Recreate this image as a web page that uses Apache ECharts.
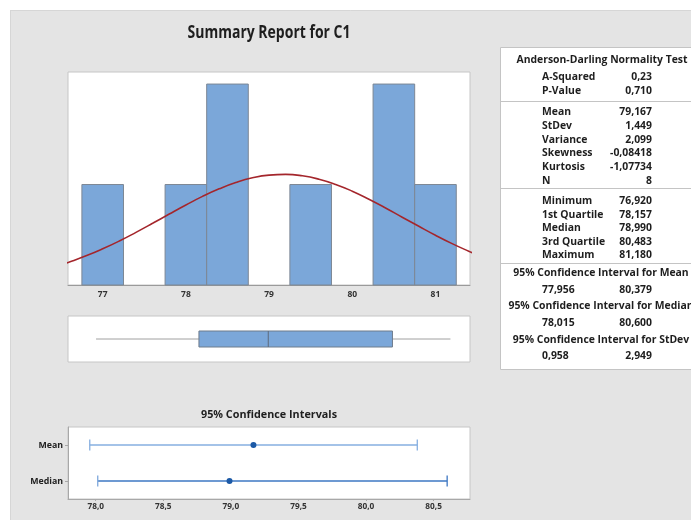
<!DOCTYPE html>
<html>
<head>
<meta charset="utf-8">
<script src="https://cdn.jsdelivr.net/npm/echarts@6/dist/echarts.min.js"></script>
<style>
  html, body { margin: 0; padding: 0; background: #fff; }
  #chart { width: 691px; height: 521px; }
</style>
</head>
<body>
<div id="chart"></div>
<script>
// ---- Data ----
const binWidth = 0.5;
const binCenters = [77.0, 78.0, 78.5, 79.5, 80.5, 81.0];
const binCounts = [1, 1, 2, 1, 2, 1];

// Fitted normal curve (scaled to counts)
const fitX = [76.5, 76.6, 76.8, 77.0, 77.2, 77.4, 77.6, 77.8, 78.0, 78.2, 78.4, 78.6, 78.8,
              79.0, 79.2, 79.4, 79.6, 79.8, 80.0, 80.2, 80.4, 80.6, 80.8, 81.0, 81.2, 81.4, 81.5];
const fitY = [0.202, 0.229, 0.290, 0.360, 0.438, 0.524, 0.614, 0.706, 0.796, 0.882, 0.957, 1.020, 1.067,
              1.094, 1.101, 1.087, 1.053, 1.001, 0.934, 0.854, 0.767, 0.675, 0.584, 0.495, 0.412, 0.336, 0.301];
const histTicks = [77, 78, 79, 80, 81];

// Five-number summary: min, Q1, median, Q3, max
const boxStats = [76.920, 78.157, 78.990, 80.483, 81.180];

// 95% confidence intervals
const ciNames = ['Median', 'Mean'];
const ciLow = [78.015, 77.956];
const ciCenter = [78.990, 79.167];
const ciHigh = [80.600, 80.379];
const ciTicks = [78.0, 78.5, 79.0, 79.5, 80.0, 80.5];

// Text
const titleText = 'Summary Report for C1';
const ciTitle = '95% Confidence Intervals';
const adHeader = 'Anderson-Darling Normality Test';
const adRows = [['A-Squared', '0,23'], ['P-Value', '0,710']];
const descRows = [['Mean', '79,167'], ['StDev', '1,449'], ['Variance', '2,099'],
                  ['Skewness', '-0,08418'], ['Kurtosis', '-1,07734'], ['N', '8']];
const quartRows = [['Minimum', '76,920'], ['1st Quartile', '78,157'], ['Median', '78,990'],
                   ['3rd Quartile', '80,483'], ['Maximum', '81,180']];
const ciRows = [['95% Confidence Interval for Mean', '77,956', '80,379'],
                ['95% Confidence Interval for Median', '78,015', '80,600'],
                ['95% Confidence Interval for StDev', '0,958', '2,949']];

// ---- Styling ----
const FONT = '"Open Sans", "Noto Sans", sans-serif';
const textColor = '#1e1e1e';
const barFill = '#7ba7d9';
const barStroke = '#7d8794';
const frame = '#c6c6c6';

const chart = echarts.init(document.getElementById('chart'), null, { renderer: 'canvas' });

function txt(text, x, y, align, font, extra) {
  return Object.assign({
    type: 'text', x: x, y: y, z: 20,
    style: { text: text, fill: textColor, font: font, align: align, verticalAlign: 'middle' }
  }, extra || {});
}

// Statistics panel on the right
const tableFont = 'bold 10.4px ' + FONT;
const labelX = 542, valueX = 652;
const graphics = [
  // white margins around the grey canvas
  { type: 'rect', z: 1, shape: { x: 0, y: 0, width: 691, height: 10 }, style: { fill: '#fff' } },
  { type: 'rect', z: 1, shape: { x: 0, y: 0, width: 10, height: 521 }, style: { fill: '#fff' } },
  { type: 'rect', z: 1, shape: { x: 0, y: 520, width: 691, height: 1 }, style: { fill: '#fff' } },
  { type: 'line', z: 1, shape: { x1: 10, y1: 10.5, x2: 691, y2: 10.5 }, style: { stroke: '#d6d6d6', lineWidth: 1 } },
  { type: 'line', z: 1, shape: { x1: 10.5, y1: 10, x2: 10.5, y2: 520 }, style: { stroke: '#d6d6d6', lineWidth: 1 } },
  // titles
  txt(titleText, 269, 33, 'center', 'bold 17.5px ' + FONT, { scaleX: 0.8 }),
  txt(ciTitle, 269, 415, 'center', 'bold 10.8px ' + FONT),
  // table frame
  { type: 'rect', z: 5, shape: { x: 500.5, y: 47.5, width: 200, height: 322 },
    style: { fill: '#fff', stroke: '#c4c4c4', lineWidth: 1 } },
  { type: 'line', z: 6, shape: { x1: 500, y1: 101.5, x2: 691, y2: 101.5 }, style: { stroke: '#c4c4c4', lineWidth: 1 } },
  { type: 'line', z: 6, shape: { x1: 500, y1: 188.5, x2: 691, y2: 188.5 }, style: { stroke: '#c4c4c4', lineWidth: 1 } },
  { type: 'line', z: 6, shape: { x1: 500, y1: 263.5, x2: 691, y2: 263.5 }, style: { stroke: '#c4c4c4', lineWidth: 1 } },
  txt(adHeader, 602, 60, 'center', tableFont)
];
adRows.forEach((r, i) => {
  const y = 77 + i * 14.3;
  graphics.push(txt(r[0], labelX, y, 'left', tableFont), txt(r[1], valueX, y, 'right', tableFont));
});
descRows.forEach((r, i) => {
  const y = 112 + i * 13.8;
  graphics.push(txt(r[0], labelX, y, 'left', tableFont), txt(r[1], valueX, y, 'right', tableFont));
});
quartRows.forEach((r, i) => {
  const y = 201.5 + i * 13.4;
  graphics.push(txt(r[0], labelX, y, 'left', tableFont), txt(r[1], valueX, y, 'right', tableFont));
});
ciRows.forEach((r, i) => {
  const y = 273 + i * 33.3;
  graphics.push(txt(r[0], 601, y, 'center', tableFont),
                txt(r[1], labelX, y + 16.7, 'left', tableFont),
                txt(r[2], valueX, y + 16.7, 'right', tableFont));
});

const option = {
  backgroundColor: '#e4e4e4',
  animation: false,
  textStyle: { fontFamily: FONT },
  grid: [
    { left: 68, top: 72, width: 402, height: 213, show: true, backgroundColor: '#fff', borderColor: frame, borderWidth: 1 },
    { left: 68, top: 316, width: 402, height: 46, show: true, backgroundColor: '#fff', borderColor: frame, borderWidth: 1 },
    { left: 68, top: 427, width: 402, height: 72, show: true, backgroundColor: '#fff', borderColor: frame, borderWidth: 1 }
  ],
  xAxis: [
    { type: 'value', gridIndex: 0, min: 76.583, max: 81.415,
      axisLine: { show: true, lineStyle: { color: '#9a9a9a' } },
      axisTick: { show: false, customValues: histTicks },
      splitLine: { show: false },
      axisLabel: { customValues: histTicks, color: '#333', fontSize: 8.5, fontWeight: 'bold', margin: 5,
                   formatter: v => String(v) } },
    { type: 'value', gridIndex: 1, min: 76.583, max: 81.415, show: false },
    { type: 'value', gridIndex: 2, min: 77.795, max: 80.769,
      axisLine: { show: true, lineStyle: { color: '#a8a8a8' } },
      axisTick: { show: true, length: 2, customValues: ciTicks, lineStyle: { color: '#a8a8a8' } },
      splitLine: { show: false },
      axisLabel: { customValues: ciTicks, color: '#333', fontSize: 8.3, fontWeight: 'bold', margin: 4,
                   formatter: v => v.toFixed(1).replace('.', ',') } }
  ],
  yAxis: [
    { type: 'value', gridIndex: 0, min: 0, max: 2.12, show: false },
    { type: 'value', gridIndex: 1, min: -1, max: 1, show: false },
    { type: 'category', gridIndex: 2, data: ciNames,
      axisLine: { show: true, lineStyle: { color: '#a8a8a8' } },
      axisTick: { show: true, length: 3, alignWithLabel: true, lineStyle: { color: '#a8a8a8' } },
      axisLabel: { color: '#222', fontSize: 8.8, fontWeight: 'bold', margin: 5 } }
  ],
  series: [
    {
      type: 'custom', name: 'Histogram', xAxisIndex: 0, yAxisIndex: 0, z: 2,
      data: binCenters.map((c, i) => [c, binCounts[i]]),
      renderItem: function (params, api) {
        const c = api.value(0), n = api.value(1);
        const tl = api.coord([c - binWidth / 2, n]);
        const br = api.coord([c + binWidth / 2, 0]);
        return {
          type: 'rect',
          shape: { x: tl[0], y: tl[1], width: br[0] - tl[0], height: br[1] - tl[1] },
          style: { fill: barFill, stroke: barStroke, lineWidth: 1 }
        };
      }
    },
    {
      type: 'line', name: 'Normal fit', xAxisIndex: 0, yAxisIndex: 0, z: 3,
      data: fitX.map((x, i) => [x, fitY[i]]),
      smooth: true, symbol: 'none', clip: true,
      lineStyle: { color: '#a4262c', width: 1.6 }
    },
    {
      type: 'custom', name: 'Boxplot', xAxisIndex: 1, yAxisIndex: 1,
      data: [boxStats],
      encode: { x: [0, 1, 2, 3, 4] },
      renderItem: function (params, api) {
        const p = [0, 1, 2, 3, 4].map(k => api.coord([api.value(k), 0]));
        const y = p[0][1];
        const h = 8;
        const whisker = { stroke: '#a0a0a0', lineWidth: 1 };
        return {
          type: 'group',
          children: [
            { type: 'line', shape: { x1: p[0][0], y1: y, x2: p[1][0], y2: y }, style: whisker },
            { type: 'line', shape: { x1: p[3][0], y1: y, x2: p[4][0], y2: y }, style: whisker },
            { type: 'rect', shape: { x: p[1][0], y: y - h, width: p[3][0] - p[1][0], height: 2 * h },
              style: { fill: barFill, stroke: '#6f7c8c', lineWidth: 1 } },
            { type: 'line', shape: { x1: p[2][0], y1: y - h, x2: p[2][0], y2: y + h },
              style: { stroke: '#5d6b7c', lineWidth: 1 } }
          ]
        };
      }
    },
    {
      type: 'custom', name: 'Intervals', xAxisIndex: 2, yAxisIndex: 2,
      data: ciNames.map((n, i) => [i, ciLow[i], ciCenter[i], ciHigh[i]]),
      encode: { y: 0, x: [1, 2, 3] },
      renderItem: function (params, api) {
        const idx = api.value(0);
        const lo = api.coord([api.value(1), idx]);
        const mid = api.coord([api.value(2), idx]);
        const hi = api.coord([api.value(3), idx]);
        const color = idx === 1 ? '#86afe0' : '#3d77c3';
        const capColor = idx === 1 ? '#86afe0' : '#7ea8dc';
        const cap = 5.5;
        return {
          type: 'group',
          children: [
            { type: 'line', shape: { x1: lo[0], y1: lo[1], x2: hi[0], y2: hi[1] },
              style: { stroke: color, lineWidth: 1.3 } },
            { type: 'line', shape: { x1: lo[0], y1: lo[1] - cap, x2: lo[0], y2: lo[1] + cap },
              style: { stroke: capColor, lineWidth: 1.3 } },
            { type: 'line', shape: { x1: hi[0], y1: hi[1] - cap, x2: hi[0], y2: hi[1] + cap },
              style: { stroke: color, lineWidth: 1.3 } },
            { type: 'circle', shape: { cx: mid[0], cy: mid[1], r: 3 },
              style: { fill: '#1c59a6' } }
          ]
        };
      }
    }
  ],
  graphic: graphics
};

chart.setOption(option);
</script>
</body>
</html>
